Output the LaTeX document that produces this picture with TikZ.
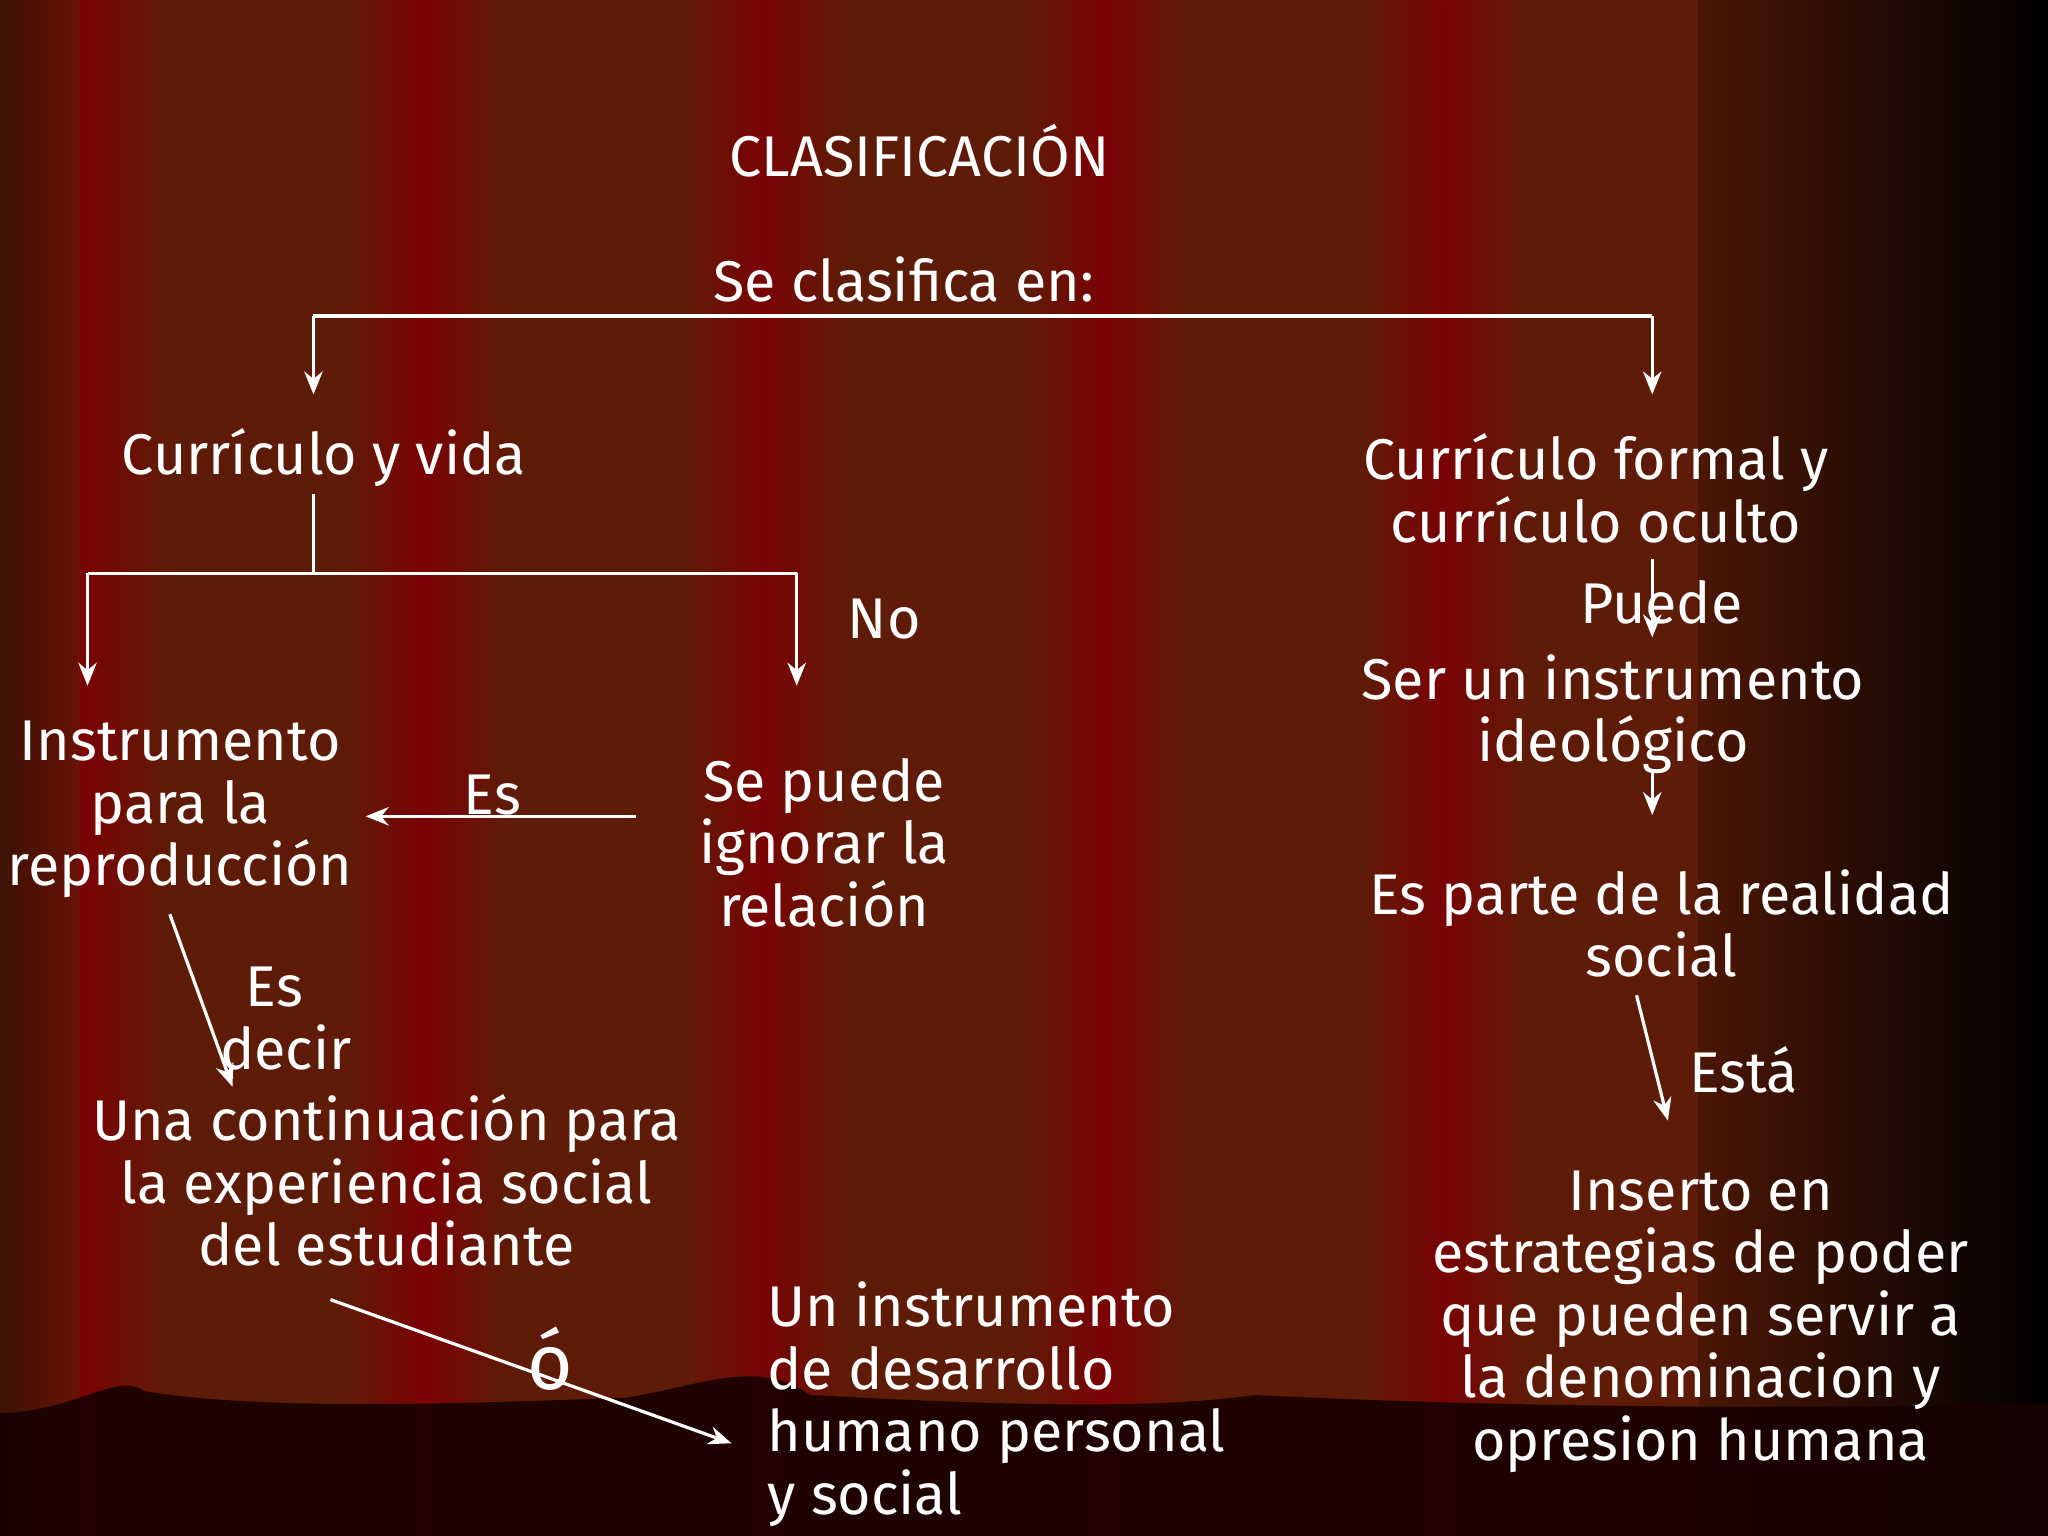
\documentclass[tikz,border=0pt]{standalone}
\usepackage{fontspec}
\usetikzlibrary{arrows.meta}
\setmainfont{Fira Sans}
\begin{document}
\begin{tikzpicture}[x=0.01cm,y=-0.01cm,
  txt/.style={text=white,font=\fontsize{12.5}{13.6}\selectfont,align=center,inner sep=0pt},
  con/.style={draw=white,line width=0.7pt},
  arr/.style={con,-{Stealth[length=5pt,width=4pt]}}]
\useasboundingbox (0,0) rectangle (1568,1176);
% background stripes
\definecolor{cbrown}{HTML}{5E1C08}
\definecolor{cred}{HTML}{7A0303}
\fill[cbrown] (0,0) rectangle (1568,1176);
\foreach \a/\b in {0/130,260/390,520/650,780/910,1040/1170}{
  \shade[left color=cbrown,right color=cred] (\a,0) rectangle (\a+65,1176);
  \shade[left color=cred,right color=cbrown] (\a+65,0) rectangle (\b,1176);
}
\shade[left color=cbrown,right color=cbrown] (1170,0) rectangle (1300,1176);
\shade[left color=cbrown!80!black,right color=black] (1300,0) rectangle (1568,1176);
\shade[left color=black!60!cbrown, right color=cbrown,opacity=0.6] (0,0) rectangle (60,1176);
% bottom wave
\fill[black!80!cred,opacity=0.9] (0,1082) .. controls (60,1080) and (90,1050) .. (110,1065)
 .. controls (200,1080) and (350,1075) .. (480,1070) .. controls (540,1060) and (580,1040) .. (620,1068)
 .. controls (750,1075) and (880,1080) .. (960,1068) .. controls (1100,1075) and (1300,1080) .. (1568,1075)
 -- (1568,1176) -- (0,1176) -- cycle;
% texts
\node[txt] (t) at (704,115) {CLASIFICACIÓN};
\node[txt] (s) at (692,214) {Se clasifica en:};
\node[txt] (cv) at (248,350) {Currículo y vida};
\node[txt] (cf) at (1222,374) {Currículo formal y\\currículo oculto};
\node[txt] (no) at (677,474) {No};
\node[txt] (ip) at (138,620) {Instrumento\\para la\\reproducción};
\node[txt] (es) at (377,609) {Es};
\node[txt] (sp) at (631,645) {Se puede\\ignorar la\\relación};
\node[txt] (pu) at (1272,461) {Puede};
\node[txt] (si) at (1235,547) {Ser un instrumento\\ideológico};
\node[txt] (ep) at (1272,707) {Es parte de la realidad\\social};
\node[txt] (ed) at (210,780) {Es\\\hspace*{5pt}decir};
\node[txt] (uc) at (296,904) {Una continuación para\\la experiencia social\\del estudiante};
\node[txt] (esta) at (1335,819) {Está};
\node[txt] (ie) at (1302,1012) {Inserto en\\estrategias de poder\\que pueden servir a\\la denominacion y\\opresion humana};
\node[txt,font=\fontsize{17}{18}\selectfont] (o) at (421,1040) {ó};
\node[txt,align=left] (ui) at (763,1075) {Un instrumento\\de desarrollo\\humano personal\\y social};
% connectors
\coordinate (a1) at (240,242); \coordinate (a2) at (1265,242);
\coordinate (a1e) at (240,302); \coordinate (a2e) at (1265,302);
\draw[con] (a1) -- (a2);
\draw[arr] (a1) -- (a1e);
\draw[arr] (a2) -- (a2e);
\coordinate (b0) at (240,378); \coordinate (b1) at (240,439);
\coordinate (bl) at (67,439); \coordinate (br) at (610,439);
\coordinate (ble) at (67,525); \coordinate (bre) at (610,525);
\draw[con] (b0) -- (b1) (bl) -- (br);
\draw[arr] (bl) -- (ble);
\draw[arr] (br) -- (bre);
\coordinate (c0) at (487,625); \coordinate (c1) at (280,625);
\draw[arr] (c0) -- (c1);
\coordinate (d0) at (130,700); \coordinate (d1) at (178,832);
\draw[arr] (d0) -- (d1);
\coordinate (e0) at (1265,428); \coordinate (e1) at (1265,488);
\draw[arr] (e0) -- (e1);
\coordinate (f0) at (1265,590); \coordinate (f1) at (1265,624);
\draw[arr] (f0) -- (f1);
\coordinate (g0) at (1253,762); \coordinate (g1) at (1277,858);
\draw[arr] (g0) -- (g1);
\coordinate (h0) at (253,995); \coordinate (h1) at (560,1105);
\draw[arr] (h0) -- (h1);
\end{tikzpicture}
\end{document}
